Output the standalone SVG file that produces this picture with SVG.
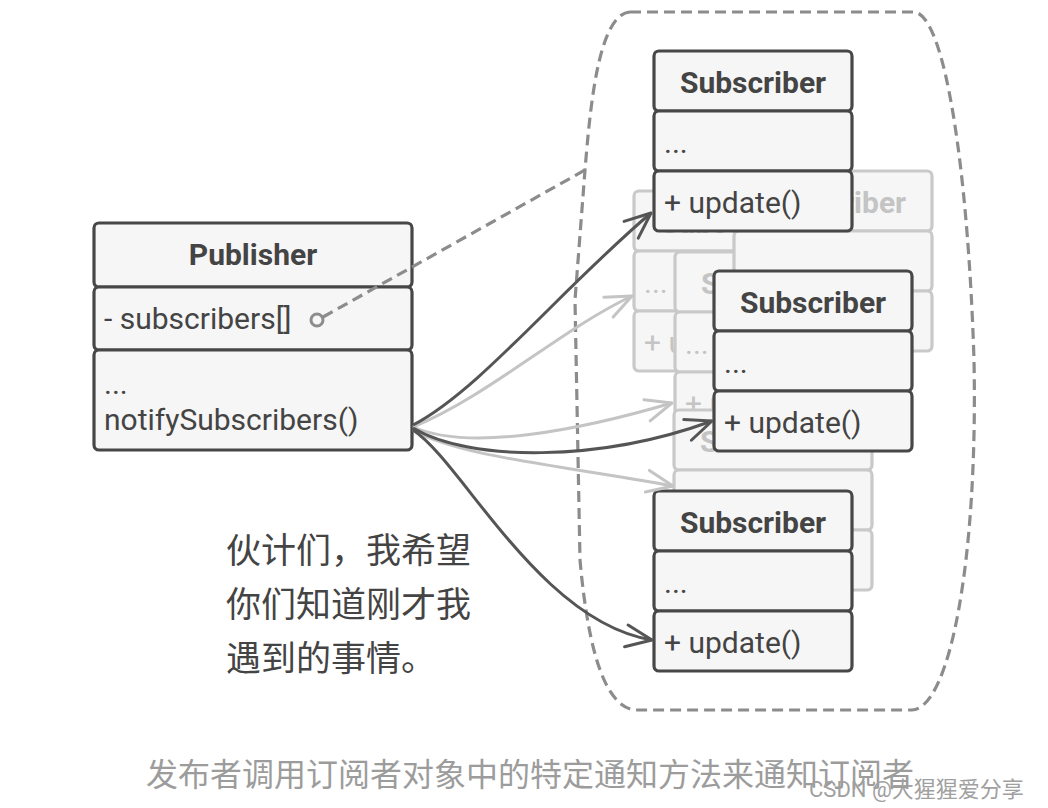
<svg xmlns="http://www.w3.org/2000/svg" width="1048" height="808" viewBox="0 0 1048 808">
<style>
.box{fill:#f6f6f6;stroke:#474747;stroke-width:3.2}
.gbox{fill:#f6f6f6;stroke:#c9c9c9;stroke-width:3.2}
.t{font-family:Roboto,"Liberation Sans",sans-serif;font-size:30px;fill:#444}
.b{font-weight:bold}
.c{text-anchor:middle}
.g{fill:#c4c4c4}
.dk{fill:none;stroke:#555;stroke-width:3}
.lt{fill:none;stroke:#c4c4c4;stroke-width:3}
.dash{fill:none;stroke:#8c8c8c;stroke-width:3.2;stroke-dasharray:11 6}
.cjk{font-family:"Noto Sans CJK SC","Noto Sans",sans-serif}
</style>
<defs>
<marker id="ad" markerUnits="userSpaceOnUse" markerWidth="40" markerHeight="40" viewBox="-30 -20 40 40" refX="0" refY="0" orient="auto">
<path d="M-26,-11 L0,0 L-26,11" fill="none" stroke="#555" stroke-width="3" stroke-linecap="round" stroke-linejoin="round"/>
</marker>
<marker id="al" markerUnits="userSpaceOnUse" markerWidth="40" markerHeight="40" viewBox="-30 -20 40 40" refX="0" refY="0" orient="auto">
<path d="M-26,-11 L0,0 L-26,11" fill="none" stroke="#c4c4c4" stroke-width="3" stroke-linecap="round" stroke-linejoin="round"/>
</marker>
</defs>
<rect width="1048" height="808" fill="#fff"/>

<g id="group-boundary">
<path class="dash" d="M630,12 L914,12 C945,14 968,170 974,360 C978,560 950,708 912,710 L636,710 C605,708 588,650 580,560 L575,300 L585,170 C590,110 598,14 630,12 Z"/>
</g>

<g id="ghost-b">
<rect class="gbox" x="634" y="191" width="198" height="60" rx="5"/>
<rect class="gbox" x="634" y="251" width="198" height="60" rx="5"/>
<rect class="gbox" x="634" y="311" width="198" height="60" rx="5"/>
<text class="t b c g" x="733" y="233">Subscriber</text>
<text class="t g" x="644" y="293">...</text>
<text class="t g" x="644" y="353">+ update()</text>
</g>
<g id="ghost-c">
<rect class="gbox" x="675" y="252" width="198" height="60" rx="5"/>
<rect class="gbox" x="675" y="312" width="198" height="60" rx="5"/>
<rect class="gbox" x="675" y="372" width="198" height="60" rx="5"/>
<text class="t b c g" x="774" y="294">Subscriber</text>
<text class="t g" x="685" y="354">...</text>
<text class="t g" x="685" y="414">+ update()</text>
</g>
<g id="ghost-d">
<rect class="gbox" x="674" y="410" width="198" height="60" rx="5"/>
<rect class="gbox" x="674" y="470" width="198" height="60" rx="5"/>
<rect class="gbox" x="674" y="530" width="198" height="60" rx="5"/>
<text class="t b c g" x="773" y="452">Subscriber</text>
<text class="t g" x="684" y="512">...</text>
<text class="t g" x="684" y="572">+ update()</text>
</g>
<g id="ghost-a">
<rect class="gbox" x="734" y="171" width="198" height="60" rx="5"/>
<rect class="gbox" x="734" y="231" width="198" height="60" rx="5"/>
<rect class="gbox" x="734" y="291" width="198" height="60" rx="5"/>
<text class="t b c g" x="833" y="213">Subscriber</text>
<text class="t g" x="744" y="273">...</text>
<text class="t g" x="744" y="333">+ update()</text>
</g>

<g id="publisher">
<rect class="box" x="94" y="223" width="318" height="64" rx="5"/>
<rect class="box" x="94" y="287" width="318" height="63" rx="5"/>
<rect class="box" x="94" y="350" width="318" height="100" rx="5"/>
<text class="t b c" x="253" y="265">Publisher</text>
<text class="t" x="104" y="329">- subscribers[]</text>
<text class="t" x="104" y="394">...</text>
<text class="t" x="104" y="430">notifySubscribers()</text>
</g>

<g id="subscriber-1">
<rect class="box" x="654" y="51" width="198" height="60" rx="5"/>
<rect class="box" x="654" y="111" width="198" height="60" rx="5"/>
<rect class="box" x="654" y="171" width="198" height="60" rx="5"/>
<text class="t b c" x="753" y="93">Subscriber</text>
<text class="t" x="664" y="153">...</text>
<text class="t" x="664" y="213">+ update()</text>
</g>
<g id="subscriber-2">
<rect class="box" x="714" y="271" width="198" height="60" rx="5"/>
<rect class="box" x="714" y="331" width="198" height="60" rx="5"/>
<rect class="box" x="714" y="391" width="198" height="60" rx="5"/>
<text class="t b c" x="813" y="313">Subscriber</text>
<text class="t" x="724" y="373">...</text>
<text class="t" x="724" y="433">+ update()</text>
</g>
<g id="subscriber-3">
<rect class="box" x="654" y="491" width="198" height="60" rx="5"/>
<rect class="box" x="654" y="551" width="198" height="60" rx="5"/>
<rect class="box" x="654" y="611" width="198" height="60" rx="5"/>
<text class="t b c" x="753" y="533">Subscriber</text>
<text class="t" x="664" y="593">...</text>
<text class="t" x="664" y="653">+ update()</text>
</g>

<g id="connectors">
<path class="dash" d="M323,317 L585,170"/>
<circle cx="317" cy="320" r="6" fill="#f6f6f6" stroke="#8c8c8c" stroke-width="3"/>
<path class="lt" marker-end="url(#al)" d="M413,427 C490,395 560,330 632,296"/>
<path class="lt" marker-end="url(#al)" d="M413,427 C470,452 580,430 672,403"/>
<path class="lt" marker-end="url(#al)" d="M413,430 C460,457 560,465 673,486"/>
<path class="dk" marker-end="url(#ad)" d="M413,425 C480,390 560,290 651,213"/>
<path class="dk" marker-end="url(#ad)" d="M413,428 C470,462 600,462 712,421"/>
<path class="dk" marker-end="url(#ad)" d="M413,430 C462,462 540,622 652,640"/>
</g>

<g id="speech" class="cjk" font-size="35" fill="#444">
<text x="226" y="563">伙计们，我希望</text>
<text x="226" y="617">你们知道刚才我</text>
<text x="226" y="671">遇到的事情。</text>
</g>

<text class="cjk" x="146" y="786" font-size="32" fill="#9c9c9c">发布者调用订阅者对象中的特定通知方法来通知订阅者</text>
<text x="809" y="797" font-family="Roboto,'Noto Sans CJK SC',sans-serif" font-size="22" fill="#a0a0a0">CSDN @大猩猩爱分享</text>
</svg>
